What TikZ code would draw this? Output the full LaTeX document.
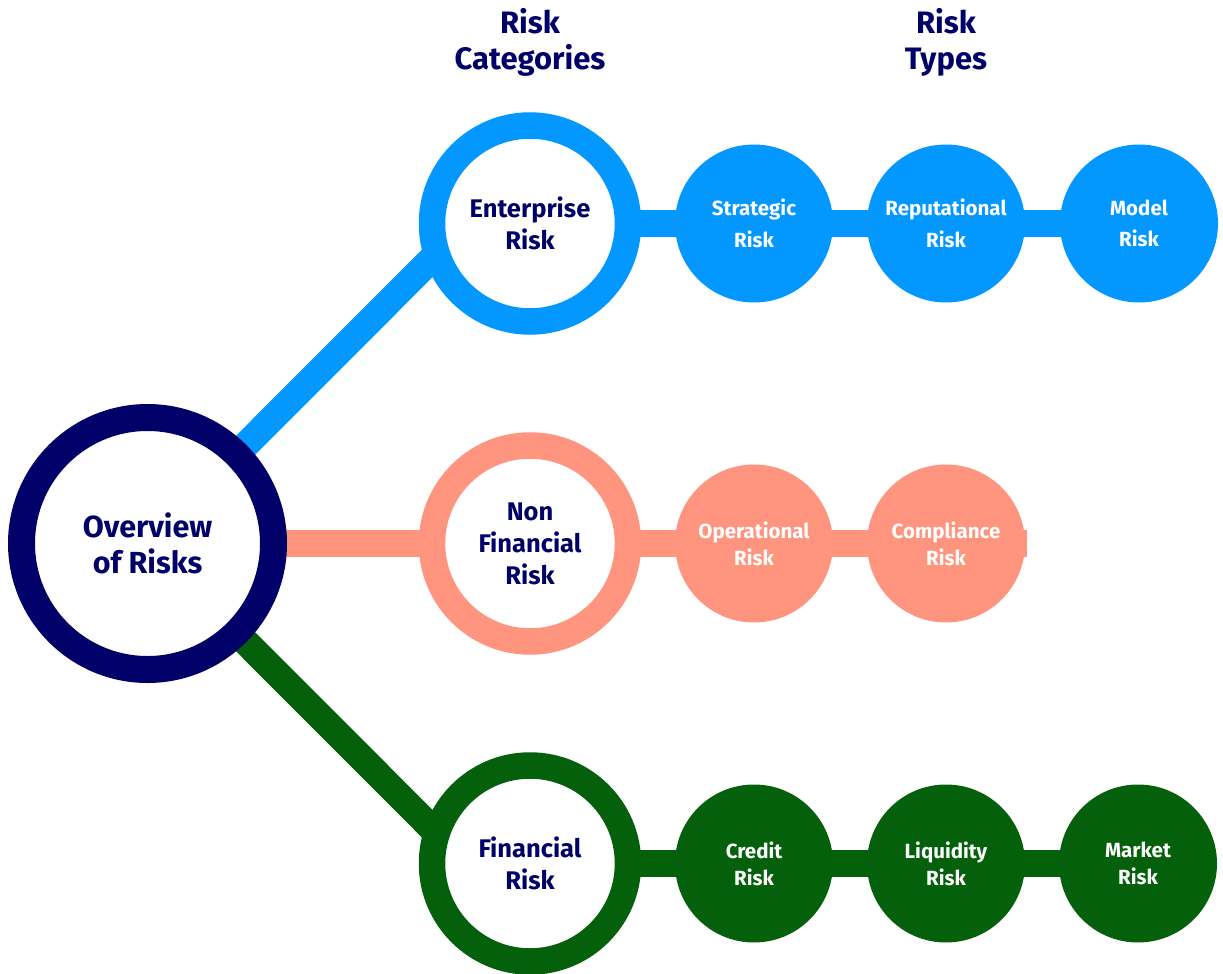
\documentclass[tikz,border=0pt]{standalone}
\usepackage{fontspec}
\setmainfont{Fira Sans}
\usetikzlibrary{backgrounds}
\definecolor{navy}{RGB}{0,0,104}
\definecolor{riskblue}{RGB}{2,152,255}
\definecolor{salmon}{RGB}{255,149,126}
\definecolor{fingreen}{RGB}{4,96,10}
\begin{document}
\begin{tikzpicture}[x=1pt,y=-1pt,
  mainring/.style={circle,draw=navy,line width=27pt,fill=white,minimum size=252pt,
    inner sep=0pt,outer sep=0pt,text=navy,align=center,
    font=\fontsize{30.5}{36}\selectfont\bfseries},
  catring/.style={circle,line width=26.5pt,fill=white,minimum size=196pt,
    inner sep=0pt,outer sep=0pt,text=navy,align=center,
    font=\fontsize{25.5}{32}\selectfont\bfseries},
  typedot/.style={circle,minimum size=158pt,inner sep=0pt,outer sep=0pt,
    text=white,align=center,font=\fontsize{20.5}{31.7}\selectfont\bfseries},
  tightdot/.style={typedot,font=\fontsize{20.5}{27}\selectfont\bfseries},
  heading/.style={text=navy,align=center,font=\fontsize{31}{36.5}\selectfont\bfseries},
  band/.style={line width=27pt}
]
\useasboundingbox (0,0) rectangle (1223,974);

% headings
\node[heading] (hcat) at (530,42.5) {Risk\\Categories};
\node[heading] (htyp) at (946,42.5) {Risk\\Types};

% main node
\node[mainring] (ov) at (147.5,543.5) {Overview\\of Risks};

% category rings
\node[catring,draw=riskblue] (ent) at (530,223.5) {Enterprise\\Risk};
\node[catring,draw=salmon] (nf) at (530,543.5) {Non\\Financial\\Risk};
\node[catring,draw=fingreen] (fin) at (530,863.5) {Financial\\Risk};

% risk types
\node[typedot,fill=riskblue] (str) at (754,223.5) {Strategic\\Risk};
\node[typedot,fill=riskblue] (rep) at (946,223.5) {Reputational\\Risk};
\node[typedot,fill=riskblue] (mod) at (1139,223.5) {Model\\Risk};

\node[tightdot,fill=salmon] (op) at (754,543.5) {Operational\\Risk};
\node[tightdot,fill=salmon] (comp) at (946,543.5) {Compliance\\Risk};
\coordinate (nfend) at (1027,543.5);

\node[tightdot,fill=fingreen] (cred) at (754,863.5) {Credit\\Risk};
\node[tightdot,fill=fingreen] (liq) at (946,863.5) {Liquidity\\Risk};
\node[tightdot,fill=fingreen] (mkt) at (1138,863.5) {Market\\Risk};

% connectors
\begin{scope}[on background layer]
  \draw[band,riskblue] (ov.center) -- (ent.198);
  \draw[band,salmon] (ov.center) -- (nf.center);
  \draw[band,fingreen] (ov.center) -- (fin.162);

  \draw[band,riskblue] (ent.center) -- (str.center);
  \draw[band,riskblue] (str.center) -- (rep.center);
  \draw[band,riskblue] (rep.center) -- (mod.center);

  \draw[band,salmon] (nf.center) -- (op.center);
  \draw[band,salmon] (op.center) -- (comp.center);
  \draw[band,salmon] (comp.center) -- (nfend);

  \draw[band,fingreen] (fin.center) -- (cred.center);
  \draw[band,fingreen] (cred.center) -- (liq.center);
  \draw[band,fingreen] (liq.center) -- (mkt.center);
\end{scope}
\end{tikzpicture}
\end{document}
